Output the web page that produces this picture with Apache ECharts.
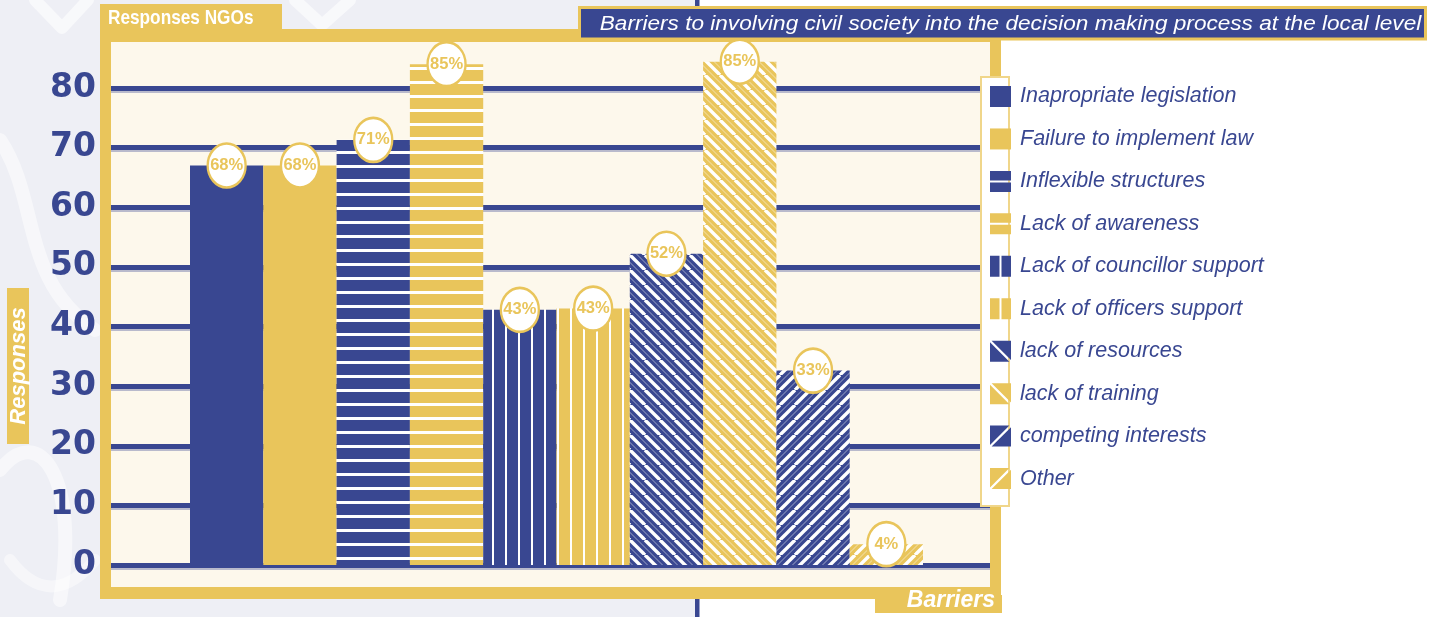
<!DOCTYPE html>
<html>
<head>
<meta charset="utf-8">
<script src="https://cdn.jsdelivr.net/npm/echarts@6/dist/echarts.min.js"></script>
<style>
  html, body { margin: 0; padding: 0; background: #ffffff; }
  #chart { width: 1430px; height: 617px; }
</style>
</head>
<body>
<div id="chart"></div>
<script>
// ---- data ----
const categories = [
  'Inapropriate legislation',
  'Failure to implement law',
  'Inflexible structures',
  'Lack of awareness',
  'Lack of councillor support',
  'Lack of officers support',
  'lack of resources',
  'lack of training',
  'competing interests',
  'Other'
];
const responses = [67, 67, 71.3, 84, 42.8, 43, 52.2, 84.4, 32.6, 3.5];
const percentLabels = ['68%', '68%', '71%', '85%', '43%', '43%', '52%', '85%', '33%', '4%'];
const yTicks = [0, 10, 20, 30, 40, 50, 60, 70, 80];

// ---- styling ----
const BLUE = '#394791';
const YELLOW = '#e9c55b';
const CREAM = '#fdf8ec';
const GREY = '#eeeff5';
const colorsBase = [BLUE, YELLOW, BLUE, YELLOW, BLUE, YELLOW, BLUE, YELLOW, BLUE, YELLOW];
const patternKinds = ['solid', 'solid', 'h', 'h', 'v', 'v', 'd1', 'd1', 'd2', 'd2'];
const legendIcons = {
  solid: 'rect',
  h: 'path://M0,0H21V9.5H0Z M0,11.5H21V21H0Z',
  v: 'path://M0,0H9.5V21H0Z M11.5,0H21V21H11.5Z',
  d1: 'path://M1.6,0H21V19.4Z M0,1.6L19.4,21H0Z',
  d2: 'path://M0,0H19.4L0,19.4Z M21,1.6V21H1.6Z'
};

function makePattern(base, kind) {
  if (kind === 'solid') return base;
  const c = document.createElement('canvas');
  const g = c.getContext('2d');
  if (kind === 'h') {
    c.width = 8; c.height = 14;
    g.fillStyle = base; g.fillRect(0, 0, 8, 14);
    g.fillStyle = '#ffffff'; g.fillRect(0, 11, 8, 3);
  } else if (kind === 'v') {
    c.width = 13; c.height = 8;
    g.fillStyle = base; g.fillRect(0, 0, 13, 8);
    g.fillStyle = '#ffffff'; g.fillRect(11, 0, 2, 8);
  } else {
    const s = 15;
    c.width = s; c.height = s;
    g.fillStyle = base; g.fillRect(0, 0, s, s);
    g.lineCap = 'butt';
    g.strokeStyle = 'rgba(255,255,255,0.5)';
    g.lineWidth = 1;
    for (const k of [-s, 0, s]) {
      g.beginPath();
      if (kind === 'd1') { g.moveTo(k + s / 2, 0); g.lineTo(k + s / 2 + s, s); }
      else { g.moveTo(k + s / 2 + s, 0); g.lineTo(k + s / 2, s); }
      g.stroke();
    }
    g.strokeStyle = '#ffffff';
    g.lineWidth = 3.4;
    for (const k of [-s, 0, s]) {
      g.beginPath();
      if (kind === 'd1') { g.moveTo(k, 0); g.lineTo(k + s, s); }
      else { g.moveTo(k + s, 0); g.lineTo(k, s); }
      g.stroke();
    }
  }
  return { image: c, repeat: 'repeat' };
}

const barSeries = categories.map((name, i) => ({
  name: name,
  type: 'bar',
  xAxisIndex: 1,
  yAxisIndex: 1,
  stack: 'all',
  barCategoryGap: '0%',
  silent: true,
  itemStyle: { color: makePattern(colorsBase[i], patternKinds[i]) },
  data: responses.map((v, j) => (j === i ? v : '-')),
  z: 2
}));

const labelSeries = {
  name: 'percent',
  type: 'scatter',
  xAxisIndex: 1,
  yAxisIndex: 1,
  silent: true,
  symbol: 'circle',
  symbolSize: [38, 44],
  itemStyle: { color: '#ffffff', borderColor: YELLOW, borderWidth: 2.5, opacity: 1 },
  label: {
    show: true,
    position: 'inside',
    formatter: p => percentLabels[p.dataIndex],
    color: YELLOW,
    fontSize: 16.5,
    fontWeight: 'bold',
    fontFamily: 'Liberation Sans'
  },
  data: responses.slice(),
  z: 6
};

// y mapping: 0 -> 565px, 80 -> 88px (5.9625 px per unit)
const PX = (565 - 88) / 80;

const chart = echarts.init(document.getElementById('chart'), null, { renderer: 'canvas' });

const option = {
  animation: false,
  backgroundColor: '#ffffff',
  grid: [
    { left: 111, right: 1430 - 990, top: 88, bottom: 617 - 565 },
    { left: 190, right: 1430 - 923, top: 88 - 10 * PX, bottom: 617 - 565 }
  ],
  xAxis: [
    { gridIndex: 0, type: 'category', data: [''], show: false },
    { gridIndex: 1, type: 'category', data: categories, show: false, boundaryGap: true }
  ],
  yAxis: [
    {
      gridIndex: 0, type: 'value', min: yTicks[0], max: yTicks[yTicks.length - 1], interval: 10,
      axisLine: { show: false }, axisTick: { show: false },
      splitLine: { show: true, lineStyle: { color: BLUE, width: 5, shadowColor: 'rgba(57,71,145,0.35)', shadowOffsetY: 2, shadowBlur: 0 } },
      axisLabel: { show: true, margin: 15, color: BLUE, fontSize: 33, fontWeight: 'bold', fontFamily: 'DejaVu Sans' }
    },
    {
      gridIndex: 1, type: 'value', min: 0, max: 90, interval: 10,
      show: false, splitLine: { show: false }
    }
  ],
  legend: {
    orient: 'vertical',
    left: 985,
    top: 80.5,
    itemWidth: 21,
    itemHeight: 21,
    itemGap: 20.45,
    selectedMode: false,
    z: 60,
    textStyle: { color: BLUE, fontSize: 21.5, fontStyle: 'italic', fontFamily: 'Liberation Sans', lineHeight: 21, padding: [0, 0, 0, 4] },
    data: categories.map((n, i) => ({
      name: n,
      icon: legendIcons[patternKinds[i]],
      itemStyle: { color: colorsBase[i], borderWidth: 0 }
    }))
  },
  graphic: [
    { type: 'rect', z: -100, shape: { x: 0, y: 0, width: 697, height: 617 }, style: { fill: GREY } },
    { type: 'polyline', z: -99, shape: { points: [[35, 0], [62, 28], [88, 0]] }, style: { stroke: 'rgba(255,255,255,0.6)', lineWidth: 12, lineCap: 'round', lineJoin: 'round', fill: null } },
    { type: 'polyline', z: -99, shape: { points: [[295, 0], [322, 25], [350, 0]] }, style: { stroke: 'rgba(255,255,255,0.6)', lineWidth: 12, lineCap: 'round', lineJoin: 'round', fill: null } },
    { type: 'bezierCurve', z: -99, shape: { x1: 0, y1: 140, cpx1: 40, cpy1: 200, cpx2: 20, cpy2: 280, x2: 95, y2: 330 }, style: { stroke: 'rgba(255,255,255,0.5)', lineWidth: 14, lineCap: 'round', fill: null } },
    { type: 'bezierCurve', z: -99, shape: { x1: 0, y1: 470, cpx1: 40, cpy1: 420, cpx2: 80, cpy2: 480, x2: 60, y2: 600 }, style: { stroke: 'rgba(255,255,255,0.5)', lineWidth: 14, lineCap: 'round', fill: null } },
    { type: 'bezierCurve', z: -99, shape: { x1: 10, y1: 560, cpx1: 40, cpy1: 600, cpx2: 70, cpy2: 590, x2: 95, y2: 560 }, style: { stroke: 'rgba(255,255,255,0.45)', lineWidth: 12, lineCap: 'round', fill: null } },
    { type: 'rect', z: -98, shape: { x: 695, y: 0, width: 4.5, height: 617 }, style: { fill: BLUE } },
    { type: 'rect', z: -90, shape: { x: 100, y: 4, width: 182, height: 30 }, style: { fill: YELLOW } },
    { type: 'rect', z: -90, shape: { x: 100, y: 29, width: 901, height: 570 }, style: { fill: YELLOW } },
    { type: 'rect', z: -90, shape: { x: 875, y: 595, width: 127, height: 18 }, style: { fill: YELLOW } },
    { type: 'rect', z: -89, shape: { x: 111, y: 42, width: 879, height: 545 }, style: { fill: CREAM } },
    { type: 'text', z: -88, x: 108, y: 18, scaleX: 0.82, style: { text: 'Responses NGOs', fill: '#ffffff', font: 'bold 21px "Liberation Sans", sans-serif', textVerticalAlign: 'middle', textAlign: 'left' } },
    { type: 'text', z: -88, x: 995, y: 601, style: { text: 'Barriers', fill: '#ffffff', font: 'italic bold 23px "Liberation Sans", sans-serif', textVerticalAlign: 'middle', textAlign: 'right' } },
    { type: 'rect', z: -88, shape: { x: 7, y: 288, width: 22, height: 156 }, style: { fill: YELLOW } },
    { type: 'text', z: -87, x: 18.5, y: 366, rotation: Math.PI / 2, style: { text: 'Responses', fill: '#ffffff', font: 'italic bold 22px "Liberation Sans", sans-serif', textVerticalAlign: 'middle', textAlign: 'center' } },
    { type: 'rect', z: 50, shape: { x: 579.5, y: 7.5, width: 846, height: 31.5 }, style: { fill: BLUE, stroke: YELLOW, lineWidth: 3 } },
    { type: 'text', z: 51, x: 1010.5, y: 24, scaleX: 1.13, style: { text: 'Barriers to involving civil society into the decision making process at the local level', fill: '#ffffff', font: 'italic 20px "Liberation Sans", sans-serif', textVerticalAlign: 'middle', textAlign: 'center' } },
    { type: 'rect', z: 50, shape: { x: 981, y: 77, width: 28, height: 429 }, style: { fill: '#ffffff', stroke: '#f0d68a', lineWidth: 2 } }
  ],
  series: barSeries.concat([labelSeries])
};

chart.setOption(option);
</script>
</body>
</html>
